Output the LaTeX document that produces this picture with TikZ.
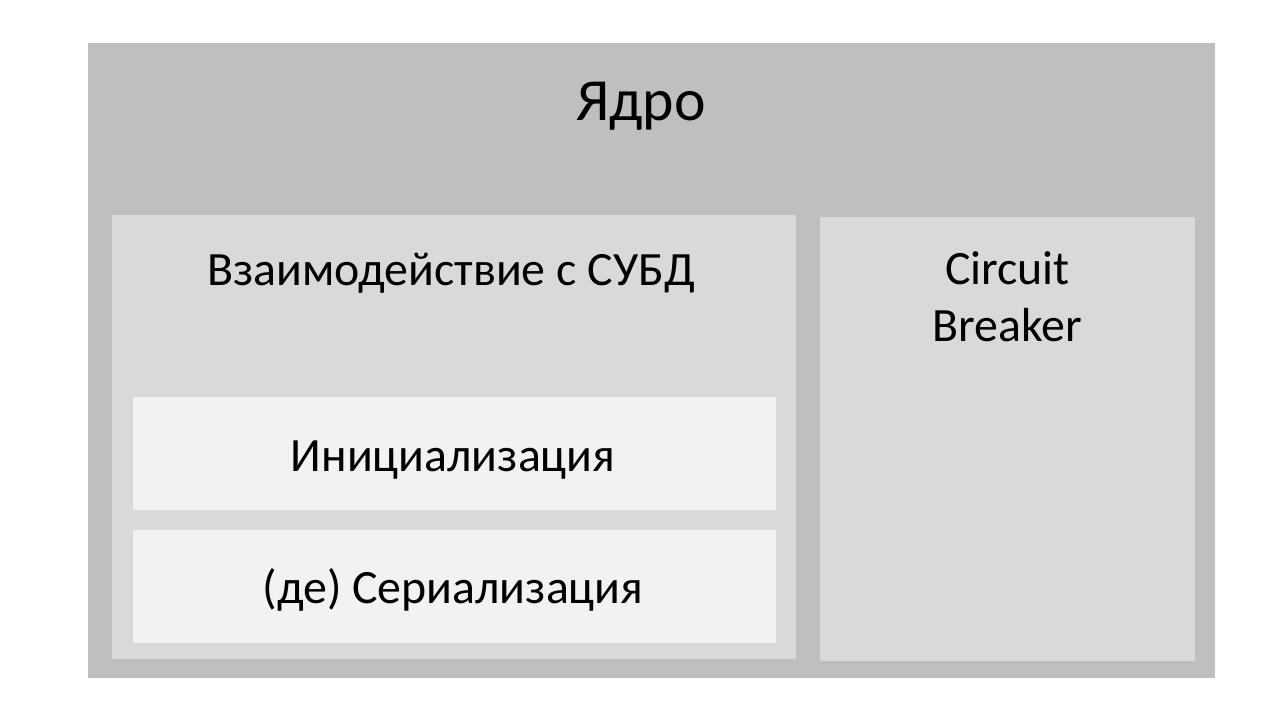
\documentclass[tikz,border=0pt]{standalone}
\usepackage{fontspec}
\setmainfont{Carlito}
\usetikzlibrary{positioning}
\definecolor{coregray}{HTML}{BFBFBF}
\definecolor{midgray}{HTML}{D9D9D9}
\definecolor{lightgray}{HTML}{F2F2F2}
\tikzset{
  box/.style={rectangle,draw=none,inner sep=0pt,anchor=north west},
  bigtitle/.style={inner sep=0pt,anchor=base,font=\fontsize{60}{72}\selectfont},
  title/.style={inner sep=0pt,anchor=base,align=center,font=\fontsize{48}{57}\selectfont}
}
\begin{document}
\begin{tikzpicture}[x=1bp,y=-1bp]
  \useasboundingbox[fill=white] (0,0) rectangle (1280,720);
  % outer block
  \node[box,fill=coregray,minimum width=1127bp,minimum height=635bp] (core) at (88,43) {};
  \node[bigtitle] (coretitle) at (641,121) {Ядро};
  % database block
  \node[box,fill=midgray,minimum width=684bp,minimum height=444bp] (dbms) at (112,215) {};
  \node[title] (dbmstitle) at (451,285) {Взаимодействие с СУБД};
  \node[box,fill=lightgray,minimum width=643bp,minimum height=113bp] (init) at (133,397) {};
  \node[title] (inittext) at (453,471) {Инициализация};
  \node[box,fill=lightgray,minimum width=643bp,minimum height=113bp] (serial) at (133,530) {};
  \node[title] (serialtext) at (453,603) {(де) Сериализация};
  % circuit breaker
  \node[box,fill=midgray,minimum width=375bp,minimum height=444bp] (breaker) at (820,217) {};
  \node[title] (breakertitle) at (1007.5,341) {Circuit\\Breaker};
\end{tikzpicture}
\end{document}
